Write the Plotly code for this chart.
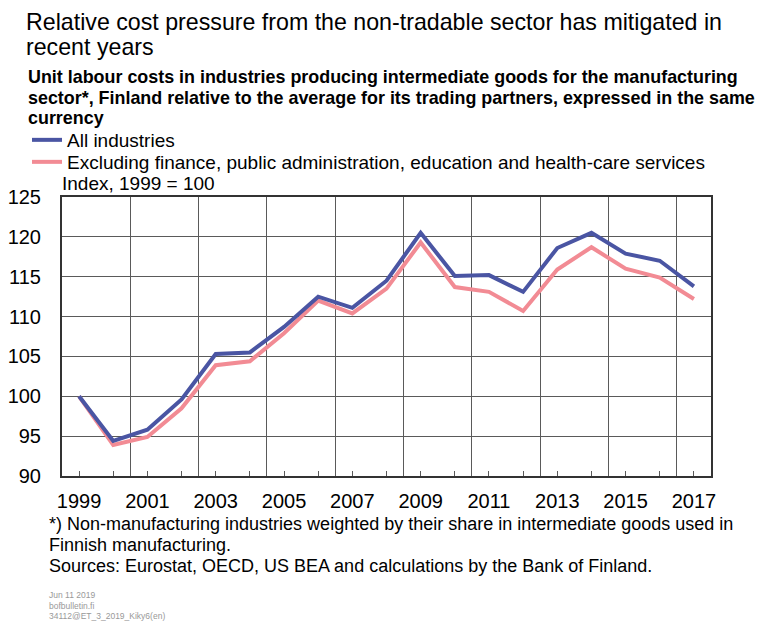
import plotly.graph_objects as go

years = list(range(1999, 2018))
all_industries = [100.0, 94.4, 95.8, 99.6, 105.3, 105.5, 108.7, 112.5, 111.1, 114.5,
                  120.5, 115.1, 115.2, 113.1, 118.6, 120.5, 117.9, 117.0, 113.8]
excluding = [100.0, 93.9, 94.9, 98.5, 103.9, 104.4, 107.9, 112.0, 110.4, 113.5,
             119.3, 113.7, 113.1, 110.7, 115.9, 118.7, 116.0, 114.9, 112.2]
tick_years = list(range(1999, 2018, 2))
series_names = ["All industries",
                "Excluding finance, public administration, education and health-care services"]

W, H = 767, 621
L, R, T, B = 62, 711, 197, 476
FONT = "Liberation Sans, Arial, sans-serif"


def xp(px):
    return (px - L) / (R - L)


def yp(py):
    return (B - py) / (B - T)


fig = go.Figure()
fig.add_trace(go.Scatter(x=years, y=excluding, name=series_names[1], mode="lines",
                         line=dict(color="#f28b94", width=4), legend="legend2"))
fig.add_trace(go.Scatter(x=years, y=all_industries, name=series_names[0], mode="lines",
                         line=dict(color="#4a55a3", width=4), legend="legend"))
# invisible trace carrying the label axis
fig.add_trace(go.Scatter(x=[years[0]], y=[None], xaxis="x2", showlegend=False,
                         hoverinfo="skip", mode="lines"))

fig.update_layout(
    width=W, height=H,
    margin=dict(l=L, r=W - R, t=T, b=H - B, autoexpand=False),
    paper_bgcolor="white", plot_bgcolor="white",
    font=dict(family=FONT, color="#000000", size=19),
    showlegend=True,
    legend=dict(x=xp(27), xanchor="left", y=yp(140), yanchor="middle",
                font=dict(size=19), bgcolor="rgba(0,0,0,0)", itemwidth=30),
    legend2=dict(x=xp(27), xanchor="left", y=yp(162), yanchor="middle",
                 font=dict(size=19), bgcolor="rgba(0,0,0,0)", itemwidth=30),
    xaxis=dict(range=[1998.5, 2017.5], tickmode="linear", tick0=2000.5, dtick=2,
               showgrid=True, gridcolor="#5a5a5a", gridwidth=1,
               showticklabels=False, ticks="inside", ticklen=5, tickcolor="#5a5a5a",
               minor=dict(dtick=1, ticks="inside", ticklen=5, tickcolor="#5a5a5a", showgrid=False),
               showline=True, linecolor="#333333", linewidth=2, mirror=True, zeroline=False,
               automargin=False),
    xaxis2=dict(range=[1998.5, 2017.5], overlaying="x", anchor="y", side="bottom",
                tickmode="array", tickvals=tick_years, ticktext=[str(y) for y in tick_years],
                showgrid=False, ticks="", showline=False, zeroline=False,
                tickfont=dict(size=20), ticklabelstandoff=11, automargin=False),
    yaxis=dict(range=[90, 125], tickmode="linear", tick0=90, dtick=5,
               showgrid=True, gridcolor="#5a5a5a", gridwidth=1, ticks="",
               tickfont=dict(size=20), ticklabelstandoff=15,
               showline=True, linecolor="#333333", linewidth=2, mirror=True, zeroline=False,
               automargin=False),
)

text_lines = [
    # (text, x px, y px centre, size, bold, colour)
    ("Relative cost pressure from the non-tradable sector has mitigated in", 24, 22, 23.2, False, "#000000"),
    ("recent years", 24, 47, 23.2, False, "#000000"),
    ("Unit labour costs in industries producing intermediate goods for the manufacturing", 26, 77, 17.9, True, "#000000"),
    ("sector*, Finland relative to the average for its trading partners, expressed in the same", 26, 98, 17.9, True, "#000000"),
    ("currency", 26, 118, 17.9, True, "#000000"),
    ("Index, 1999 = 100", 60, 183, 19, False, "#000000"),
    ("*) Non-manufacturing industries weighted by their share in intermediate goods used in", 47, 524, 18, False, "#000000"),
    ("Finnish manufacturing.", 47, 545, 18, False, "#000000"),
    ("Sources: Eurostat, OECD, US BEA and calculations by the Bank of Finland.", 47, 566, 18, False, "#000000"),
    ("Jun 11 2019", 47, 595, 8.5, False, "#999999"),
    ("bofbulletin.fi", 47, 606, 8.5, False, "#999999"),
    ("34112@ET_3_2019_Kiky6(en)", 47, 616, 8.5, False, "#999999"),
]
annotations = []
for txt, x, y, size, bold, col in text_lines:
    annotations.append(dict(text=f"<b>{txt}</b>" if bold else txt,
                            x=xp(x), y=yp(y), xref="paper", yref="paper",
                            xanchor="left", yanchor="middle", align="left", showarrow=False,
                            font=dict(size=size, color=col)))
fig.update_layout(annotations=annotations)

fig.write_html("out.html", config={"displayModeBar": False},
               post_script="document.body.style.margin='0px';")
